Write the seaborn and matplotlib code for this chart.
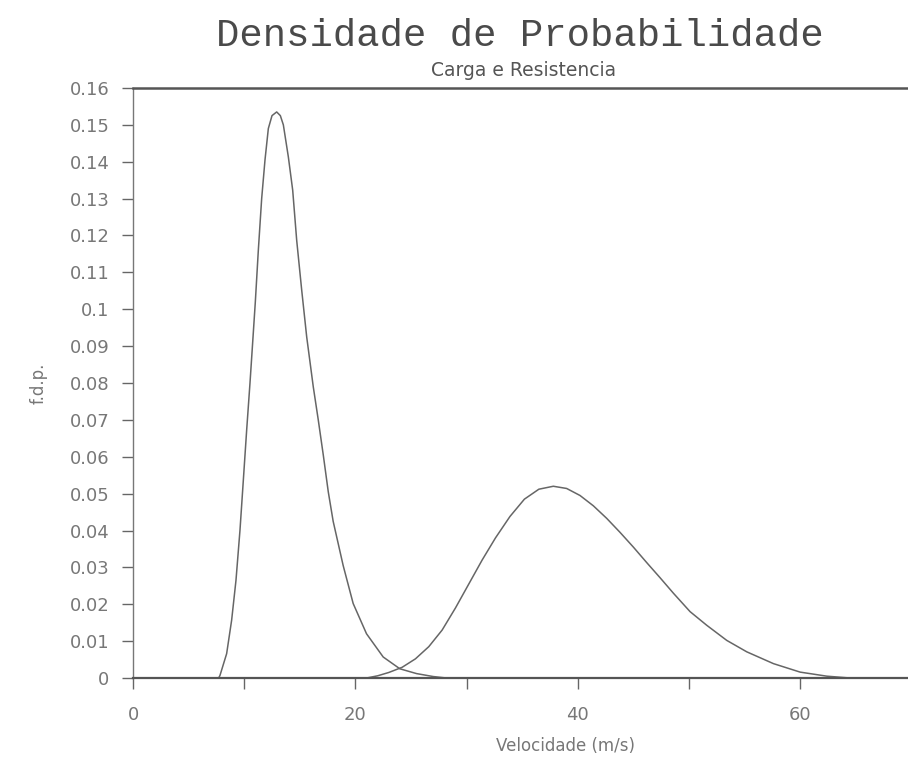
import numpy as np
import pandas as pd
import matplotlib
matplotlib.use("Agg")
import matplotlib.pyplot as plt
import seaborn as sns

# Data (velocity in m/s, probability density)
carga_x = [7.7, 7.82, 8.42, 8.87, 9.26, 9.62, 9.92, 10.22, 10.52, 10.75, 11.0, 11.27,
           11.57, 11.87, 12.17, 12.5, 12.92, 13.25, 13.52, 13.97, 14.36, 14.72, 15.17,
           15.62, 16.21, 16.66, 17.11, 17.56, 18.0, 18.9, 19.8, 21.0, 22.5, 24.0,
           25.5, 27.0, 28.2]
carga_y = [0.0, 0.0007, 0.0066, 0.0157, 0.0265, 0.0401, 0.0536, 0.0672, 0.0800, 0.0905,
           0.1020, 0.1160, 0.1300, 0.1405, 0.1490, 0.1525, 0.1535, 0.1525, 0.1500, 0.1413,
           0.1323, 0.1187, 0.1052, 0.0925, 0.0790, 0.0700, 0.0605, 0.0505, 0.0425, 0.0305,
           0.0202, 0.0120, 0.0057, 0.0025, 0.0012, 0.0004, 0.0]

resist_x = [21.0, 22.0, 23.0, 24.2, 25.4, 26.6, 27.8, 29.0, 30.2, 31.4, 32.6, 33.9, 35.2,
            36.5, 37.8, 39.0, 40.2, 41.4, 42.6, 43.8, 45.0, 46.2, 47.4, 48.6, 50.1, 51.6,
            53.4, 55.2, 57.6, 60.0, 62.4, 64.5]
resist_y = [0.0, 0.0006, 0.0015, 0.0029, 0.0052, 0.0085, 0.0130, 0.0190, 0.0255, 0.0320,
            0.0380, 0.0438, 0.0485, 0.0512, 0.0520, 0.0514, 0.0495, 0.0467, 0.0433, 0.0395,
            0.0355, 0.0313, 0.0272, 0.0230, 0.0180, 0.0143, 0.0102, 0.0071, 0.0039, 0.0016,
            0.0005, 0.0]

y_ticks = [0.0, 0.01, 0.02, 0.03, 0.04, 0.05, 0.06, 0.07, 0.08, 0.09, 0.10, 0.11,
           0.12, 0.13, 0.14, 0.15, 0.16]
y_tick_labels = ["0", "0.01", "0.02", "0.03", "0.04", "0.05", "0.06", "0.07", "0.08",
                 "0.09", "0.1", "0.11", "0.12", "0.13", "0.14", "0.15", "0.16"]
x_major = [0, 20, 40, 60]
x_major_labels = ["0", "20", "40", "60"]
x_minor = [10, 30, 50]

title = "Densidade de Probabilidade"
subtitle = "Carga e Resistencia"
xlabel = "Velocidade (m/s)"
ylabel = "f.d.p."

df = pd.concat([
    pd.DataFrame({"v": carga_x, "f": carga_y, "s": "Carga"}),
    pd.DataFrame({"v": resist_x, "f": resist_y, "s": "Resistencia"}),
], ignore_index=True)

sns.set_theme(style="white")
plt.rcParams["font.family"] = ["DejaVu Sans"]

fig = plt.figure(figsize=(9.08, 7.65), dpi=100)
ax = fig.add_axes([0.1465, 0.1137, 0.8535, 0.7713])

sns.lineplot(data=df, x="v", y="f", units="s", estimator=None, sort=False,
             color="#666666", linewidth=1.1, ax=ax, legend=False)

ax.set_xlim(0, 69.7)
ax.set_ylim(0, 0.16)

ax.set_yticks(y_ticks)
ax.set_yticklabels(y_tick_labels)
ax.set_xticks(x_major)
ax.set_xticklabels(x_major_labels)
ax.set_xticks(x_minor, minor=True)

tick_color = "#777777"
ax.tick_params(axis="both", which="both", direction="out", length=8, width=1.0,
               color="#666666", labelcolor=tick_color, labelsize=13,
               left=True, bottom=True)
ax.tick_params(axis="y", pad=9)
ax.tick_params(axis="x", pad=12)

for side in ["left", "bottom", "top"]:
    ax.spines[side].set_visible(True)
    ax.spines[side].set_color("#555555")
ax.spines["left"].set_linewidth(1.0)
ax.spines["left"].set_color("#777777")
ax.spines["bottom"].set_linewidth(1.6)
ax.spines["top"].set_linewidth(1.8)
ax.spines["right"].set_visible(False)

ax.set_xlabel(xlabel, fontsize=12, color=tick_color)
ax.xaxis.set_label_coords((565 - 133) / 775.0, -0.1)
ax.set_ylabel(ylabel, fontsize=12, color=tick_color)
ax.yaxis.set_label_coords(-0.11, 0.5)

fig.text(520 / 908, 1 - 36 / 765, title, ha="center", va="center",
         fontsize=28, color="#4a4a4a", family=["Liberation Mono", "DejaVu Sans Mono"])
fig.text(524 / 908, 1 - 70 / 765, subtitle, ha="center", va="center",
         fontsize=13.5, color="#555555")

fig.savefig("out.png", dpi=100, facecolor="white")
